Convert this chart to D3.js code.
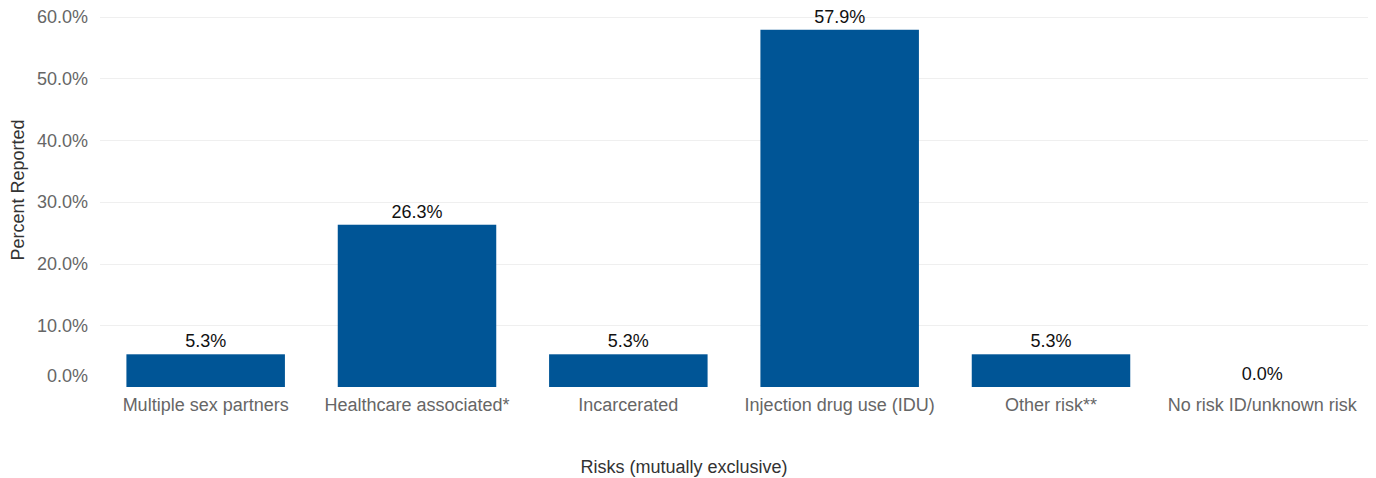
<!DOCTYPE html>
<html><head><meta charset="utf-8">
<script src="https://cdn.jsdelivr.net/npm/d3@7"></script>
<style>body{margin:0;background:#fff}svg{display:block}text{font-family:"Liberation Sans",Arial,sans-serif}</style>
</head><body><svg id="c" width="1376" height="478"></svg>
<script>
const categories = ["Multiple sex partners","Healthcare associated*","Incarcerated","Injection drug use (IDU)","Other risk**","No risk ID/unknown risk"];
const values = [5.3, 26.3, 5.3, 57.9, 5.3, 0.0];
const yTicks = [0, 10, 20, 30, 40, 50, 60];
const xTitle = "Risks (mutually exclusive)";
const yTitle = "Percent Reported";

(function () {
const svg = d3.select("#c");
const pL = 100, pR = 1368, pT = 16.8, pB = 387;
const fs = 18;
const x = d3.scaleBand().domain(categories).range([pL, pR]).paddingInner(0.25).paddingOuter(0.125);
const y = d3.scaleLinear().domain([0, 60]).range([pB, pT]);

svg.append("g").selectAll("line").data(yTicks.filter(d => d > 0)).join("line")
  .attr("x1", pL).attr("x2", pR)
  .attr("y1", d => Math.round(y(d)) + 0.5).attr("y2", d => Math.round(y(d)) + 0.5)
  .attr("stroke", "#efefef").attr("stroke-width", 1);

svg.append("g").selectAll("text").data(yTicks).join("text")
  .attr("x", 88).attr("y", d => y(d) + (d === 0 ? -11 : 0))
  .attr("dy", "0.35em").attr("text-anchor", "end")
  .attr("font-size", fs).attr("fill", "#666")
  .text(d => d.toFixed(1) + "%");

svg.append("g").selectAll("rect").data(values).join("rect")
  .attr("x", (d, i) => x(categories[i])).attr("width", x.bandwidth())
  .attr("y", d => y(d)).attr("height", d => pB - y(d))
  .attr("fill", "#005596");

svg.append("g").selectAll("text").data(values).join("text")
  .attr("x", (d, i) => x(categories[i]) + x.bandwidth() / 2)
  .attr("y", d => y(d) - 7)
  .attr("text-anchor", "middle").attr("font-size", fs).attr("fill", "#111")
  .text(d => d.toFixed(1) + "%");

svg.append("g").selectAll("text").data(categories).join("text")
  .attr("x", d => x(d) + x.bandwidth() / 2).attr("y", 410.5)
  .attr("text-anchor", "middle").attr("font-size", fs).attr("fill", "#666")
  .text(d => d);

svg.append("text").attr("x", 684).attr("y", 472.5).attr("text-anchor", "middle")
  .attr("font-size", fs).attr("fill", "#333").text(xTitle);
svg.append("text").attr("transform", "translate(24,190) rotate(-90)")
  .attr("text-anchor", "middle").attr("font-size", fs).attr("fill", "#333").text(yTitle);
})();
</script></body></html>
